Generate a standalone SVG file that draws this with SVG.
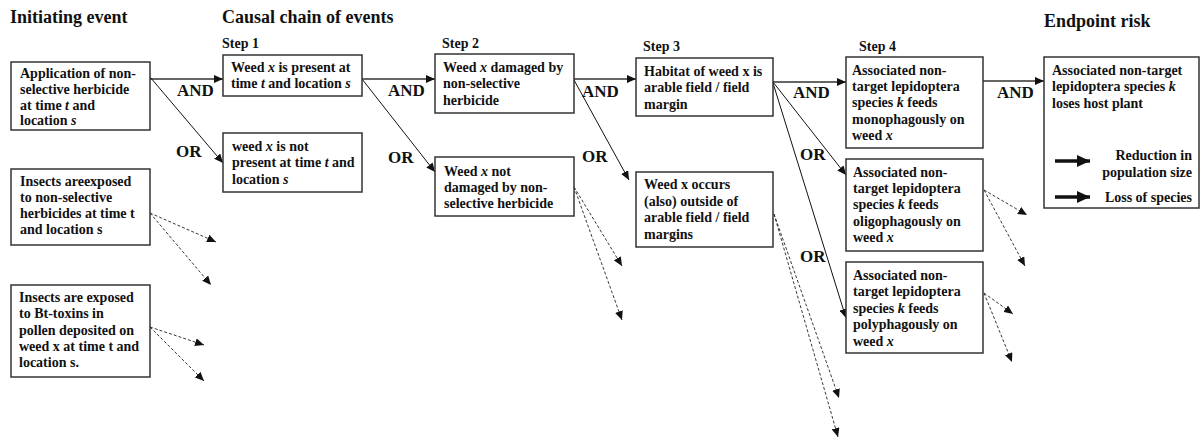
<svg xmlns="http://www.w3.org/2000/svg" width="1202" height="441" viewBox="0 0 1202 441">
<style>
text{font-family:"Liberation Serif","Times New Roman",serif;font-weight:bold;fill:#111}
.h{font-size:18px}
.st{font-size:14px}
.t{font-size:14px}
.lb{font-size:17px}
.i{font-style:italic}
.box{fill:#fff;stroke:#333;stroke-width:1.5}
.and{stroke:#333;stroke-width:1.6;fill:none}
.or{stroke:#111;stroke-width:1;fill:none}
.dash{stroke:#222;stroke-width:0.9;stroke-dasharray:3 2;fill:none}
.leg{stroke:#111;stroke-width:3.5;fill:none}
</style>
<defs>
<marker id="ah" markerUnits="userSpaceOnUse" markerWidth="10" markerHeight="8" refX="9" refY="4" orient="auto"><path d="M0,0 L9,4 L0,8 Z" fill="#111"/></marker>
<marker id="ahl" markerUnits="userSpaceOnUse" markerWidth="14" markerHeight="12" refX="13" refY="6" orient="auto"><path d="M0,0 L13,6 L0,12 Z" fill="#111"/></marker>
</defs>

<text class="h" x="10" y="23">Initiating event</text>
<text class="h" x="222" y="23">Causal chain of events</text>
<text class="h" x="1044" y="27">Endpoint risk</text>
<text class="st" x="222" y="48">Step 1</text>
<text class="st" x="442" y="48">Step 2</text>
<text class="st" x="643" y="51">Step 3</text>
<text class="st" x="859" y="51">Step 4</text>

<g id="connectors">
<line class="and" x1="150" y1="79" x2="223" y2="79" marker-end="url(#ah)"/>
<line class="and" x1="362" y1="79" x2="435" y2="79" marker-end="url(#ah)"/>
<line class="and" x1="574" y1="79" x2="636" y2="79" marker-end="url(#ah)"/>
<line class="and" x1="773" y1="82" x2="846" y2="82" marker-end="url(#ah)"/>
<line class="and" x1="983" y1="81" x2="1044" y2="81" marker-end="url(#ah)"/>
<line class="or" x1="150" y1="77" x2="223" y2="163" marker-end="url(#ah)"/>
<line class="or" x1="362" y1="79" x2="435" y2="172" marker-end="url(#ah)"/>
<line class="or" x1="574" y1="80" x2="629" y2="180" marker-end="url(#ah)"/>
<line class="or" x1="773" y1="82" x2="846" y2="175" marker-end="url(#ah)"/>
<line class="or" x1="773" y1="83" x2="846" y2="318" marker-end="url(#ah)"/>
<line class="dash" x1="150" y1="213" x2="216" y2="242" marker-end="url(#ah)"/>
<line class="dash" x1="150" y1="213" x2="211" y2="285" marker-end="url(#ah)"/>
<line class="dash" x1="150" y1="327" x2="204" y2="345" marker-end="url(#ah)"/>
<line class="dash" x1="150" y1="327" x2="204" y2="381" marker-end="url(#ah)"/>
<line class="dash" x1="574" y1="187" x2="622" y2="266" marker-end="url(#ah)"/>
<line class="dash" x1="574" y1="187" x2="622" y2="320" marker-end="url(#ah)"/>
<line class="dash" x1="774" y1="214" x2="839" y2="398" marker-end="url(#ah)"/>
<line class="dash" x1="774" y1="214" x2="838" y2="437" marker-end="url(#ah)"/>
<line class="dash" x1="984" y1="190" x2="1027" y2="215" marker-end="url(#ah)"/>
<line class="dash" x1="984" y1="190" x2="1025" y2="266" marker-end="url(#ah)"/>
<line class="dash" x1="984" y1="293" x2="1013" y2="314" marker-end="url(#ah)"/>
<line class="dash" x1="984" y1="293" x2="1012" y2="362" marker-end="url(#ah)"/>
<text class="lb" x="177" y="96">AND</text>
<text class="lb" x="176" y="157">OR</text>
<text class="lb" x="388" y="96">AND</text>
<text class="lb" x="388" y="163">OR</text>
<text class="lb" x="582" y="97">AND</text>
<text class="lb" x="582" y="162">OR</text>
<text class="lb" x="793" y="98">AND</text>
<text class="lb" x="800" y="160">OR</text>
<text class="lb" x="800" y="262">OR</text>
<text class="lb" x="997" y="98">AND</text>
</g>

<g id="init-herbicide">
<rect class="box" x="11" y="62" width="139" height="68"/>
<text class="t" x="20" y="78">Application of non-</text>
<text class="t" x="20" y="94">selective herbicide</text>
<text class="t" x="20" y="110">at time <tspan class="i">t</tspan> and</text>
<text class="t" x="20" y="125">location <tspan class="i">s</tspan></text>
</g>
<g id="init-insects-herbicide">
<rect class="box" x="11" y="169" width="139" height="76"/>
<text class="t" x="20" y="186">Insects areexposed</text>
<text class="t" x="20" y="202">to non-selective</text>
<text class="t" x="20" y="218">herbicides at time t</text>
<text class="t" x="20" y="234">and location s</text>
</g>
<g id="init-insects-bt">
<rect class="box" x="11" y="285" width="139" height="92"/>
<text class="t" x="19" y="302">Insects are exposed</text>
<text class="t" x="19" y="318">to Bt-toxins in</text>
<text class="t" x="19" y="335">pollen deposited on</text>
<text class="t" x="19" y="351">weed x at time t and</text>
<text class="t" x="19" y="367">location s.</text>
</g>
<g id="step1-present">
<rect class="box" x="223" y="55" width="139" height="41"/>
<text class="t" x="231" y="72">Weed <tspan class="i">x</tspan> is present at</text>
<text class="t" x="231" y="88">time <tspan class="i">t</tspan> and location <tspan class="i">s</tspan></text>
</g>
<g id="step1-not-present">
<rect class="box" x="223" y="133" width="139" height="59"/>
<text class="t" x="232" y="151">weed <tspan class="i">x</tspan> is not</text>
<text class="t" x="232" y="167">present at time <tspan class="i">t</tspan> and</text>
<text class="t" x="232" y="184">location <tspan class="i">s</tspan></text>
</g>
<g id="step2-damaged">
<rect class="box" x="435" y="54" width="139" height="59"/>
<text class="t" x="443" y="72">Weed <tspan class="i">x</tspan> damaged by</text>
<text class="t" x="443" y="88">non-selective</text>
<text class="t" x="443" y="105">herbicide</text>
</g>
<g id="step2-not-damaged">
<rect class="box" x="435" y="157" width="139" height="59"/>
<text class="t" x="444" y="176">Weed <tspan class="i">x</tspan> not</text>
<text class="t" x="444" y="192">damaged by non-</text>
<text class="t" x="444" y="208">selective herbicide</text>
</g>
<g id="step3-arable">
<rect class="box" x="636" y="58" width="137" height="58"/>
<text class="t" x="644" y="76">Habitat of weed x is</text>
<text class="t" x="644" y="92">arable field / field</text>
<text class="t" x="644" y="109">margin</text>
</g>
<g id="step3-outside">
<rect class="box" x="636" y="172" width="137" height="75"/>
<text class="t" x="644" y="189">Weed x occurs</text>
<text class="t" x="644" y="206">(also) outside of</text>
<text class="t" x="644" y="222">arable field / field</text>
<text class="t" x="644" y="239">margins</text>
</g>
<g id="step4-mono">
<rect class="box" x="846" y="57" width="137" height="91"/>
<text class="t" x="852" y="75">Associated non-</text>
<text class="t" x="852" y="91">target lepidoptera</text>
<text class="t" x="852" y="107">species <tspan class="i">k</tspan> feeds</text>
<text class="t" x="852" y="124">monophagously on</text>
<text class="t" x="852" y="140">weed <tspan class="i">x</tspan></text>
</g>
<g id="step4-oligo">
<rect class="box" x="846" y="159" width="137" height="92"/>
<text class="t" x="853" y="177">Associated non-</text>
<text class="t" x="853" y="193">target lepidoptera</text>
<text class="t" x="853" y="209">species <tspan class="i">k</tspan> feeds</text>
<text class="t" x="853" y="226">oligophagously on</text>
<text class="t" x="853" y="242">weed <tspan class="i">x</tspan></text>
</g>
<g id="step4-poly">
<rect class="box" x="846" y="262" width="137" height="91"/>
<text class="t" x="853" y="280">Associated non-</text>
<text class="t" x="853" y="296">target lepidoptera</text>
<text class="t" x="853" y="313">species <tspan class="i">k</tspan> feeds</text>
<text class="t" x="853" y="329">polyphagously on</text>
<text class="t" x="853" y="346">weed <tspan class="i">x</tspan></text>
</g>
<g id="endpoint">
<rect class="box" x="1044" y="57" width="155" height="151"/>
<text class="t" x="1052" y="75">Associated non-target</text>
<text class="t" x="1052" y="91">lepidoptera species <tspan class="i">k</tspan></text>
<text class="t" x="1052" y="108">loses host plant</text>
<line class="leg" x1="1055" y1="161" x2="1090" y2="161" marker-end="url(#ahl)"/>
<text class="t" x="1192" y="160" text-anchor="end">Reduction in</text>
<text class="t" x="1192" y="177" text-anchor="end">population size</text>
<line class="leg" x1="1055" y1="197" x2="1090" y2="197" marker-end="url(#ahl)"/>
<text class="t" x="1192" y="202" text-anchor="end">Loss of species</text>
</g>
</svg>
